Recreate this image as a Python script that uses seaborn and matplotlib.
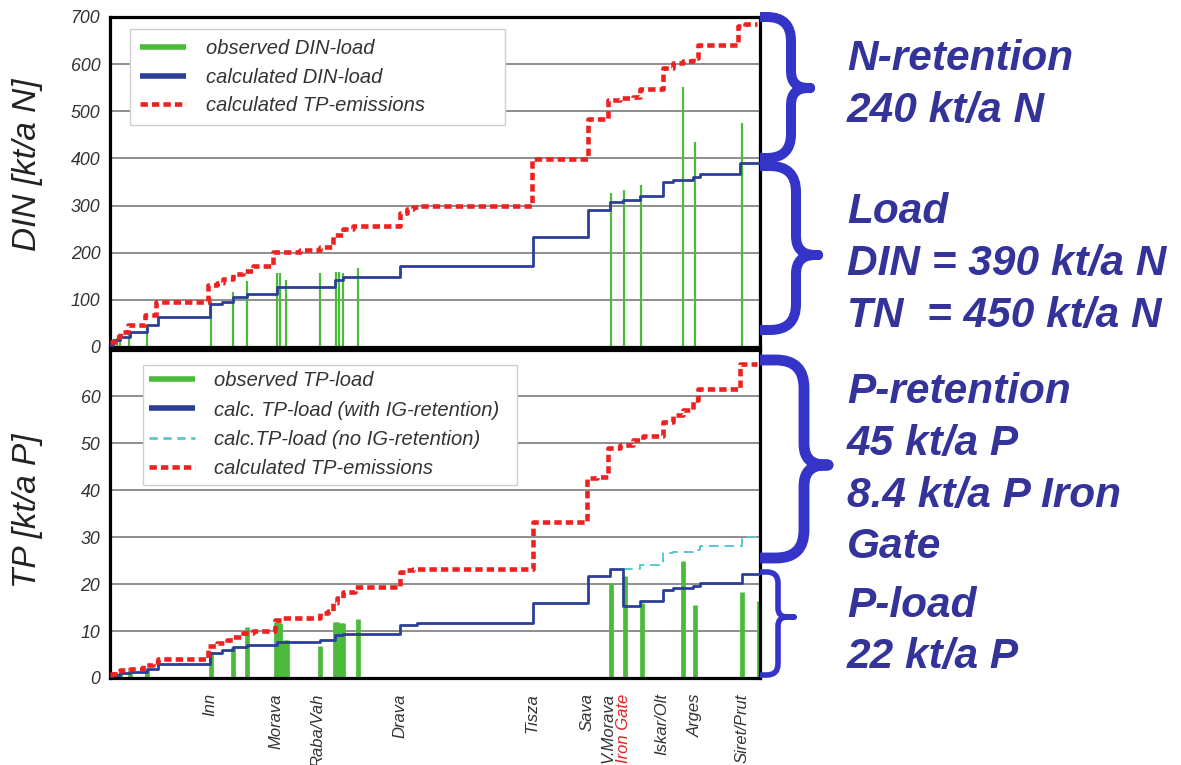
import numpy as np
import pandas as pd
import matplotlib
matplotlib.use("Agg")
import matplotlib.pyplot as plt
import seaborn as sns
from matplotlib.lines import Line2D
from matplotlib.path import Path
from matplotlib.patches import PathPatch

# ---------------- data (x = position along the river, 0..650) ----------------
din_calc_x = [0, 3, 10, 20, 37, 48, 100, 112, 123, 137, 167, 225, 233, 290, 423, 478, 500, 513, 530, 553, 563, 583, 590, 630, 650]
din_calc_y = [5, 15, 21, 32, 47, 63, 91, 96, 105, 112, 127, 142, 148, 171, 233, 291, 307, 311, 320, 350, 354, 360, 368, 390, 390]

din_emis_x = [0, 5, 10, 18, 35, 46, 98, 107, 113, 123, 133, 143, 163, 190, 210, 223, 233, 243, 290, 297, 303, 310, 422, 478, 498, 510, 523, 530, 553, 563, 573, 583, 588, 628, 635, 647]
din_emis_y = [11, 21, 32, 47, 68, 96, 131, 136, 145, 154, 162, 171, 201, 206, 213, 238, 251, 257, 284, 293, 297, 300, 398, 483, 524, 528, 530, 547, 591, 602, 607, 613, 641, 681, 685, 685]

din_obs_x = [3, 7, 10, 19, 37, 101, 123, 137, 167, 170, 176, 210, 226, 229, 233, 248, 501, 514, 531, 573, 585, 632, 650]
din_obs_y = [15, 20, 25, 29, 45, 104, 117, 139, 156, 158, 142, 158, 160, 159, 158, 168, 326, 332, 344, 552, 435, 476, 435]

tp_calc_x = [0, 3, 10, 20, 37, 48, 100, 112, 123, 137, 167, 210, 225, 233, 290, 307, 423, 478, 500, 513, 530, 553, 563, 583, 590, 632, 650]
tp_calc_y = [0.5, 0.7, 1.1, 1.3, 2.0, 3.0, 5.4, 6.0, 6.5, 7.0, 7.6, 8.0, 9.1, 9.4, 11.3, 11.6, 15.9, 21.7, 23.3, 15.3, 16.4, 18.7, 19.1, 19.6, 20.3, 22.1, 22.1]

tp_noig_x = [513, 530, 553, 563, 583, 590, 632, 650]
tp_noig_y = [23.3, 24.0, 26.5, 26.9, 27.2, 28.1, 30.1, 30.1]

tp_emis_x = [0, 5, 10, 20, 33, 43, 48, 98, 107, 117, 123, 133, 143, 165, 173, 210, 218, 223, 227, 233, 245, 290, 297, 303, 423, 477, 487, 498, 510, 523, 533, 553, 563, 573, 583, 588, 630, 647]
tp_emis_y = [0.8, 1.4, 1.8, 2.0, 2.8, 3.5, 4.0, 6.8, 7.4, 8.1, 8.8, 9.5, 9.9, 12.3, 12.7, 13.8, 14.2, 15.9, 17.0, 18.4, 19.4, 22.6, 23.0, 23.3, 33.3, 42.5, 42.8, 48.9, 49.6, 50.6, 51.5, 54.5, 56.0, 57.0, 59.1, 61.4, 66.8, 66.8]

tp_obs_x = [2, 6, 10, 20, 37, 101, 123, 137, 166, 168, 170, 173, 175, 177, 210, 225, 227, 229, 231, 233, 248, 501, 515, 532, 573, 585, 632, 649]
tp_obs_y = [0.5, 0.8, 1.0, 1.7, 2.0, 5.6, 6.7, 10.8, 12.0, 12.0, 11.8, 7.7, 8.0, 8.0, 6.8, 12.0, 11.9, 11.4, 11.8, 11.7, 12.5, 20.3, 21.8, 15.9, 24.8, 15.5, 18.4, 16.4]

river_pos = [100, 166, 208, 290, 422, 477, 498, 513, 552, 585, 632]
river_names = ["Inn", "Morava", "Raba/Vah", "Drava", "Tisza", "Sava", "V.Morava", "Iron Gate", "Iskar/Olt", "Arges", "Siret/Prut"]

din_ticks = [0, 100, 200, 300, 400, 500, 600, 700]
tp_ticks = [0, 10, 20, 30, 40, 50, 60]

# ---------------- style ----------------
sns.set_theme(style="white")
plt.rcParams["font.family"] = ["Liberation Sans", "DejaVu Sans"]

GREEN = "#4cbb3c"
BLUE = "#2b3f96"
RED = "#ee2020"
CYAN = "#5cc6d6"
ANN = "#333399"
BRACE = "#3434c8"
TXT = "#333333"

W, H = 1181, 765
fig = plt.figure(figsize=(W / 100, H / 100), dpi=100)

def ax_rect(l, t, r, b):
    return [l / W, 1 - b / H, (r - l) / W, (b - t) / H]

ax1 = fig.add_axes(ax_rect(110, 17, 760, 347))
ax2 = fig.add_axes(ax_rect(110, 350, 760, 678))

dash = (0, (1.6, 0.9))

def style_axis(ax, ticks):
    ax.set_xlim(0, 650)
    ax.set_yticks(ticks)
    ax.set_yticklabels([str(t) for t in ticks], fontstyle="italic", fontsize=12.8, color=TXT)
    ax.tick_params(axis="both", length=0)
    ax.tick_params(axis="y", pad=7)
    ax.grid(axis="y", color="#707070", lw=1.1, zorder=0)
    ax.grid(axis="x", visible=False)
    for s in ax.spines.values():
        s.set_color("black")
        s.set_linewidth(2.3)
    ax.set_xlabel("")
    ax.set_ylabel("")

# ----- top panel (DIN) -----
ax1.vlines(din_obs_x, 0, din_obs_y, color=GREEN, lw=1.6, zorder=2)
sns.lineplot(x=din_calc_x, y=din_calc_y, ax=ax1, color=BLUE, lw=2.0, drawstyle="steps-post", sort=False, zorder=3)
sns.lineplot(x=din_emis_x, y=din_emis_y, ax=ax1, color=RED, lw=3.3, linestyle=dash, drawstyle="steps-post", sort=False, zorder=4)
ax1.set_ylim(0, 700)
style_axis(ax1, din_ticks)
ax1.set_xticks([])

h1 = [Line2D([], [], color=GREEN, lw=4, solid_capstyle="butt"),
      Line2D([], [], color=BLUE, lw=4, solid_capstyle="butt"),
      Line2D([], [], color=RED, lw=3.3, linestyle=dash)]
leg1 = ax1.legend(h1, ["observed DIN-load", "calculated DIN-load", "calculated TP-emissions"],
                  loc="upper left", bbox_to_anchor=(20 / 650, 0, 375 / 650, 1 - 12 / 330),
                  mode="expand", fancybox=False,
                  framealpha=1, edgecolor="#d0d0d0", handlelength=2.3, handletextpad=0.95,
                  labelspacing=0.48, borderpad=0.5, borderaxespad=0,
                  prop={"style": "italic", "size": 14.5})
for t in leg1.get_texts():
    t.set_color(TXT)
leg1.get_frame().set_linewidth(1.0)
leg1.set_zorder(10)

# ----- bottom panel (TP) -----
ax2.vlines(tp_obs_x, 0, tp_obs_y, color=GREEN, lw=3.4, zorder=2)
sns.lineplot(x=tp_noig_x, y=tp_noig_y, ax=ax2, color=CYAN, lw=1.4, linestyle=(0, (5, 3)), drawstyle="steps-post", sort=False, zorder=3)
sns.lineplot(x=tp_calc_x, y=tp_calc_y, ax=ax2, color=BLUE, lw=2.0, drawstyle="steps-post", sort=False, zorder=3)
sns.lineplot(x=tp_emis_x, y=tp_emis_y, ax=ax2, color=RED, lw=3.3, linestyle=dash, drawstyle="steps-post", sort=False, zorder=4)
ax2.set_ylim(0, 69.8)
style_axis(ax2, tp_ticks)
ax2.set_xticks(river_pos)
ax2.set_xticklabels(river_names, rotation=90, fontstyle="italic", fontsize=12, color=TXT, va="top", ha="center")
ax2.tick_params(axis="x", pad=11)
for lbl in ax2.get_xticklabels():
    if lbl.get_text() == "Iron Gate":
        lbl.set_color("#e82020")

h2 = [Line2D([], [], color=GREEN, lw=4, solid_capstyle="butt"),
      Line2D([], [], color=BLUE, lw=4, solid_capstyle="butt"),
      Line2D([], [], color=CYAN, lw=2, linestyle=(0, (3, 2))),
      Line2D([], [], color=RED, lw=3.3, linestyle=dash)]
leg2 = ax2.legend(h2, ["observed TP-load", "calc. TP-load (with IG-retention)",
                       "calc.TP-load (no IG-retention)", "calculated TP-emissions"],
                  loc="upper left", bbox_to_anchor=(33 / 650, 0, 374 / 650, 1 - 15 / 328),
                  mode="expand", fancybox=False,
                  framealpha=1, edgecolor="#d0d0d0", handlelength=2.3, handletextpad=0.95,
                  labelspacing=0.52, borderpad=0.3, borderaxespad=0,
                  prop={"style": "italic", "size": 14.5})
for t in leg2.get_texts():
    t.set_color(TXT)
leg2.get_frame().set_linewidth(1.0)
leg2.set_zorder(10)

# y labels
fig.text(28 / W, 1 - 165 / H, "DIN [kt/a N]", rotation=90, ha="center", va="center",
         fontsize=24, fontstyle="italic", color="#222222")
fig.text(28 / W, 1 - 511 / H, "TP [kt/a P]", rotation=90, ha="center", va="center",
         fontsize=24, fontstyle="italic", color="#222222")

# ----- overlay for braces & annotations -----
ov = fig.add_axes([0, 0, 1, 1], zorder=20)
ov.set_xlim(0, W)
ov.set_ylim(H, 0)
ov.axis("off")
ov.patch.set_alpha(0)

def brace(x0, xb, xt, y0, ym, y1, r1, r2, lw):
    verts = [(x0, y0), (xb - r1, y0), (xb, y0), (xb, y0 + r1),
             (xb, ym - r2), (xb, ym), (xb + r2, ym), (xt, ym),
             (xb + r2, ym), (xb, ym), (xb, ym + r2),
             (xb, y1 - r1), (xb, y1), (xb - r1, y1), (x0, y1)]
    codes = [Path.MOVETO, Path.LINETO, Path.CURVE3, Path.CURVE3,
             Path.LINETO, Path.CURVE3, Path.CURVE3, Path.LINETO,
             Path.LINETO, Path.CURVE3, Path.CURVE3,
             Path.LINETO, Path.CURVE3, Path.CURVE3, Path.LINETO]
    ov.add_patch(PathPatch(Path(verts, codes), fill=False, edgecolor=BRACE, lw=lw,
                           capstyle="butt", joinstyle="round"))

brace(760, 791, 810, 17, 88, 158, 24, 17, 7.2)
brace(760, 796, 818, 166, 255, 330, 26, 19, 7.2)
brace(760, 804, 828, 360, 465, 558, 28, 21, 7.8)
brace(760, 778, 794, 572, 617, 675, 11, 9, 4.0)

ann_lines = [("N-retention", 70), ("240 kt/a N", 122),
             ("Load", 223), ("DIN = 390 kt/a N", 275), ("TN  = 450 kt/a N", 327),
             ("P-retention", 403), ("45 kt/a P", 455), ("8.4 kt/a P Iron", 507), ("Gate", 558),
             ("P-load", 617), ("22 kt/a P", 668)]
for s, yb in ann_lines:
    ov.text(847, yb, s, ha="left", va="baseline", fontsize=30.5, fontweight="bold",
            fontstyle="italic", color=ANN)

fig.savefig("out.png", dpi=100)
